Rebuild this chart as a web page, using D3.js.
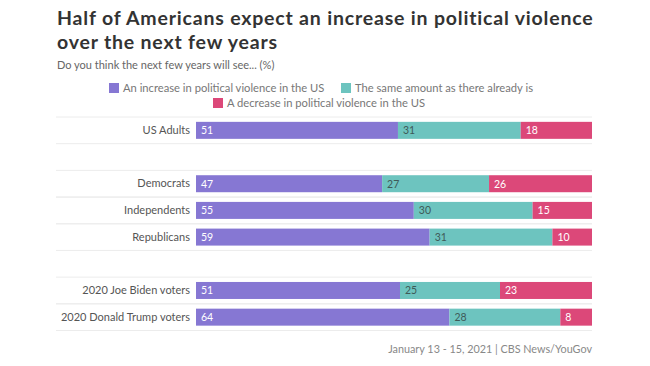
<!DOCTYPE html>
<html><head><meta charset="utf-8">
<script src="https://cdn.jsdelivr.net/npm/d3@7"></script>
<style>
html,body{margin:0;padding:0;background:#fff;}
svg{display:block;font-family:Lato, "Open Sans", sans-serif;}
</style></head>
<body><svg id="c" width="650" height="366"></svg>
<script>
const categories = ["US Adults", "", "Democrats", "Independents", "Republicans", "", "2020 Joe Biden voters", "2020 Donald Trump voters"];
const increase = [51, null, 47, 55, 59, null, 51, 64];
const same     = [31, null, 27, 30, 31, null, 25, 28];
const decrease = [18, null, 26, 15, 10, null, 23, 8];
const seriesNames = ["An increase in political violence in the US", "The same amount as there already is", "A decrease in political violence in the US"];
const colors = ["#8677d3", "#6dc4bf", "#dc4879"];
const labelColors = ["#ffffff", "#3f5a58", "#ffffff"];
const title = ["Half of Americans expect an increase in political violence", "over the next few years"];
const subtitle = "Do you think the next few years will see... (%)";
const source = "January 13 - 15, 2021 | CBS News/YouGov";

const svg = d3.select("#c");
const keys = categories.map((c,i)=>i);
const y = d3.scaleBand().domain(keys).range([117, 330.5]).paddingInner(0).paddingOuter(0);
const x = d3.scaleLinear().domain([0, 1]).range([196, 592]);
const barH = 17;

// title
const t = svg.append("g").attr("fill", "#333").style("font-weight", 700).style("font-family", "Lato, sans-serif");
title.forEach((line, i) => {
  t.append("text").attr("x", 57).attr("y", 25 + i * 23.5).attr("font-size", 19.5).text(line);
});
const first = t.select("text").node();
const w = first.getComputedTextLength();
const ls = Math.max(0, (536 - w) / (title[0].length - 1));
t.selectAll("text").style("letter-spacing", ls + "px");

svg.append("text").attr("x", 57).attr("y", 69).attr("font-size", 11).attr("fill", "#666").text(subtitle);

// legend
const legendPos = [[109, 83], [341, 83], [213, 98]];
seriesNames.forEach((n, i) => {
  const g = svg.append("g").attr("transform", `translate(${legendPos[i][0]},${legendPos[i][1]})`);
  g.append("rect").attr("width", 10).attr("height", 10).attr("fill", colors[i]);
  g.append("text").attr("x", 14).attr("y", 9).attr("font-size", 11.2).attr("fill", "#777").text(n);
});

// separators
const lineCol = "#ececec";
keys.forEach(i => {
  if (categories[i] === "") return;
  [y(i), y(i) + y.bandwidth()].forEach(yy => {
    svg.append("line").attr("x1", 56).attr("x2", 592).attr("y1", yy).attr("y2", yy)
      .attr("stroke", lineCol).attr("stroke-width", 1);
  });
});

// category labels
const axis = d3.axisLeft(y).tickSize(0).tickPadding(0).tickFormat(i => categories[i]);
const ag = svg.append("g").attr("transform", "translate(190,0)").call(axis);
ag.select(".domain").remove();
ag.selectAll("text").attr("font-size", 11).attr("fill", "#555").style("font-family", "Lato, 'Open Sans', sans-serif");

// bars (each row spans the full width, shares of its own total)
const data = keys.filter(i => categories[i] !== "").map(i => ({i, vals: [increase[i], same[i], decrease[i]]}));
data.forEach(d => {
  const total = d3.sum(d.vals);
  let cum = 0;
  d.vals.forEach((v, k) => {
    const x0 = x(cum / total), x1 = x((cum + v) / total);
    const yc = y(d.i) + y.bandwidth() / 2;
    svg.append("rect").attr("x", x0).attr("y", yc - barH / 2).attr("width", x1 - x0).attr("height", barH).attr("fill", colors[k]);
    svg.append("text").attr("x", x0 + 5).attr("y", yc + 4).attr("font-size", 10.5)
      .attr("fill", labelColors[k]).text(v);
    cum += v;
  });
});

svg.append("text").attr("x", 592).attr("y", 353).attr("text-anchor", "end").attr("font-size", 10.8).attr("fill", "#888").text(source);
</script></body></html>
